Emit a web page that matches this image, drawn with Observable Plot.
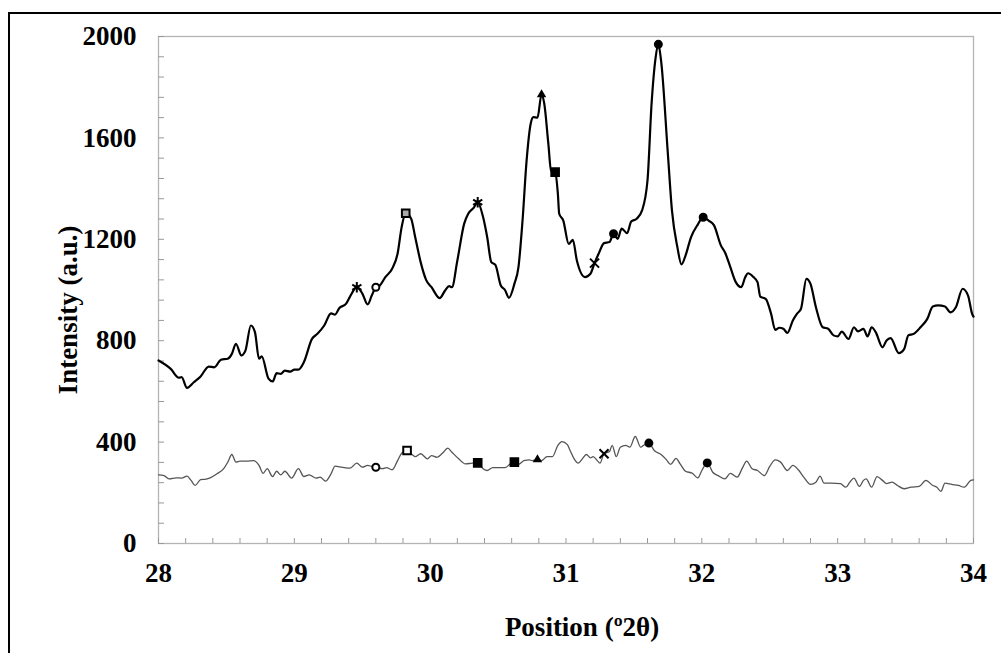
<!DOCTYPE html>
<html><head><meta charset="utf-8">
<script src="https://cdn.jsdelivr.net/npm/d3@7"></script>
<script src="https://cdn.jsdelivr.net/npm/@observablehq/plot@0.6"></script>
<style>
html,body{margin:0;padding:0;background:#fff;overflow:hidden;width:1001px;height:653px}
#border{position:absolute;left:8px;top:12px;width:1200px;height:1200px;border:2.5px solid #000;pointer-events:none}
#chart{position:absolute;left:0;top:0}
</style></head><body><div id="border"></div><div id="chart"></div>
<script>
const upperX = [28.00,28.09,28.15,28.17,28.21,28.26,28.31,28.37,28.41,28.46,28.51,28.54,28.57,28.61,28.64,28.68,28.71,28.74,28.76,28.81,28.84,28.87,28.90,28.93,28.97,29.00,29.03,29.07,29.13,29.17,29.22,29.27,29.30,29.33,29.38,29.41,29.46,29.50,29.54,29.57,29.60,29.63,29.67,29.72,29.76,29.79,29.82,29.86,29.89,29.93,29.97,30.01,30.07,30.11,30.14,30.16,30.20,30.25,30.28,30.32,30.35,30.39,30.42,30.45,30.48,30.52,30.55,30.58,30.62,30.65,30.68,30.71,30.74,30.76,30.79,30.82,30.84,30.87,30.89,30.92,30.94,30.95,30.98,31.02,31.05,31.08,31.14,31.18,31.21,31.24,31.28,31.32,31.35,31.38,31.41,31.45,31.48,31.52,31.56,31.60,31.63,31.66,31.68,31.70,31.75,31.78,31.82,31.85,31.88,31.92,31.97,32.01,32.05,32.09,32.14,32.17,32.21,32.25,32.29,32.32,32.34,32.38,32.41,32.43,32.47,32.51,32.54,32.57,32.60,32.63,32.67,32.70,32.73,32.77,32.80,32.84,32.89,32.93,32.97,33.00,33.03,33.08,33.12,33.15,33.19,33.22,33.25,33.28,33.33,33.36,33.39,33.45,33.49,33.52,33.56,33.61,33.66,33.70,33.74,33.79,33.83,33.87,33.92,33.96,33.99,34.00];
const upperY = [722,689,654,656,614,636,659,698,695,725,729,748,788,742,761,860,834,729,738,650,639,672,669,682,678,686,686,715,807,827,860,908,903,928,945,974,1011,987,943,978,1011,1018,1051,1084,1143,1248,1303,1281,1208,1110,1040,1011,968,998,1015,1011,1116,1261,1301,1324,1346,1287,1208,1110,1099,1018,1001,969,1024,1090,1274,1511,1656,1682,1680,1771,1735,1577,1471,1465,1380,1301,1274,1182,1198,1116,1051,1064,1106,1143,1185,1189,1222,1202,1242,1224,1270,1281,1314,1432,1735,1918,1969,1905,1537,1314,1169,1101,1136,1208,1258,1287,1274,1255,1176,1149,1090,1031,1011,1051,1066,1051,1031,974,965,906,843,851,847,831,880,906,926,1044,1024,932,853,847,821,817,836,807,853,837,847,817,853,834,774,801,810,751,768,821,827,853,886,935,939,935,912,932,1005,978,906,895];

const lowerX = [28.00,28.04,28.08,28.13,28.17,28.21,28.24,28.27,28.31,28.35,28.38,28.43,28.48,28.51,28.54,28.57,28.60,28.65,28.70,28.74,28.77,28.80,28.84,28.87,28.90,28.93,28.98,29.03,29.07,29.11,29.16,29.19,29.23,29.27,29.30,29.35,29.41,29.46,29.50,29.54,29.57,29.60,29.65,29.68,29.72,29.76,29.79,29.83,29.86,29.89,29.93,29.98,30.01,30.05,30.09,30.13,30.16,30.21,30.26,30.31,30.35,30.39,30.42,30.46,30.51,30.55,30.59,30.62,30.65,30.69,30.73,30.75,30.79,30.82,30.86,30.90,30.94,30.97,31.01,31.03,31.06,31.09,31.12,31.15,31.18,31.20,31.23,31.25,31.28,31.32,31.34,31.37,31.40,31.44,31.47,31.51,31.55,31.57,31.61,31.65,31.70,31.74,31.77,31.81,31.84,31.88,31.93,31.97,32.00,32.04,32.08,32.12,32.17,32.21,32.26,32.30,32.33,32.37,32.41,32.46,32.50,32.54,32.58,32.63,32.67,32.71,32.75,32.80,32.84,32.87,32.90,32.95,33.02,33.06,33.09,33.12,33.16,33.19,33.21,33.25,33.29,33.33,33.36,33.40,33.44,33.49,33.54,33.60,33.65,33.70,33.73,33.76,33.79,33.84,33.89,33.93,33.98,34.00];
const lowerY = [271,268,255,259,258,266,249,229,252,254,259,275,295,321,351,321,325,325,327,308,277,295,264,285,271,285,258,295,264,271,258,262,246,275,305,301,297,317,301,308,304,301,295,299,291,327,356,367,354,343,354,334,347,340,356,376,360,334,314,317,318,295,288,299,299,299,314,321,312,327,330,327,331,327,343,343,387,402,390,367,334,317,334,351,338,343,327,317,354,363,387,343,380,387,380,422,380,387,396,367,351,330,312,336,314,285,277,259,288,318,281,268,255,277,262,299,325,295,288,268,304,330,321,288,308,291,262,233,242,266,238,238,236,222,242,258,225,249,255,222,264,249,236,242,229,216,222,225,249,229,222,206,238,233,229,222,249,251];

const markerX = [29.46,29.60,29.82,30.35,30.82,30.92,31.21,31.35,31.68,32.01,29.60,29.83,30.35,30.62,30.79,31.28,31.61,32.04];
const markerY = [1011,1011,1303,1346,1771,1465,1106,1222,1969,1287,301,367,318,321,331,354,396,318];
const markerShape = ["asterisk","circle","square","asterisk","triangle","square","times","circle","circle","circle","circle","square","square","square","triangle","times","circle","circle"];
const markerFill = ["none","white","#aaaaaa","none","black","black","none","black","black","black","white","white","black","black","black","none","black","black"];

const xLabels = [28,29,30,31,32,33,34];
const yLabels = [0,400,800,1200,1600,2000];
const xMinor = d3.range(0, 31).map(i => 28 + i * 0.2);
const yMinor = d3.range(0, 26).map(i => i * 80);
const xTitle = "Position (º2θ)";
const yTitle = "Intensity (a.u.)";

const upper = upperX.map((x, i) => ({x, y: upperY[i]}));
const lower = lowerX.map((x, i) => ({x, y: lowerY[i]}));
const markers = markerX.map((x, i) => ({x, y: markerY[i], shape: markerShape[i], fill: markerFill[i]}));
const sizeByShape = {asterisk: 5, circle: 3.5, square: 4.3, triangle: 2.2, times: 4.2};

const font = '"Liberation Serif","Times New Roman",serif';
const plot = Plot.plot({
  width: 1001, height: 653,
  marginLeft: 158, marginRight: 28, marginTop: 36, marginBottom: 110,
  style: {fontFamily: font, fontWeight: "bold", fontSize: "27px", color: "#000", background: "transparent", overflow: "visible"},
  x: {domain: [28, 34]},
  y: {domain: [0, 2000]},
  r: {type: "identity"},
  marks: [
    Plot.frame({stroke: "#b4b4b4", strokeWidth: 1.3}),
    Plot.axisX({ticks: xMinor, tickSize: -5, stroke: "#999", text: null, label: null}),
    Plot.axisY({ticks: yMinor, tickSize: -6, stroke: "#999", text: null, label: null}),
    Plot.axisX({ticks: xLabels, tickSize: 0, tickPadding: 19, tickFormat: d => String(d), label: null, fontSize: 27, fontWeight: "bold"}),
    Plot.axisY({ticks: yLabels, tickSize: 0, tickPadding: 22, tickFormat: d => String(d), label: null, fontSize: 27, fontWeight: "bold"}),
    Plot.line(lower, {x: "x", y: "y", stroke: "#555", strokeWidth: 1.3, curve: "monotone-x"}),
    Plot.line(upper, {x: "x", y: "y", stroke: "#000", strokeWidth: 2.2, curve: "monotone-x"}),
    Plot.dot(markers, {x: "x", y: "y", symbol: "shape", fill: "fill", r: d => sizeByShape[d.shape], stroke: "#000", strokeWidth: 2}),
    Plot.text([xTitle], {frameAnchor: "bottom", dy: 84, dx: 16, lineAnchor: "middle", textAnchor: "middle", text: d => d, fontSize: 27, fontWeight: "bold"}),
    Plot.text([yTitle], {frameAnchor: "left", rotate: -90, dx: -90, dy: 20, lineAnchor: "middle", textAnchor: "middle", text: d => d, fontSize: 27, fontWeight: "bold"})
  ]
});
document.getElementById("chart").appendChild(plot);
</script>
</body></html>
